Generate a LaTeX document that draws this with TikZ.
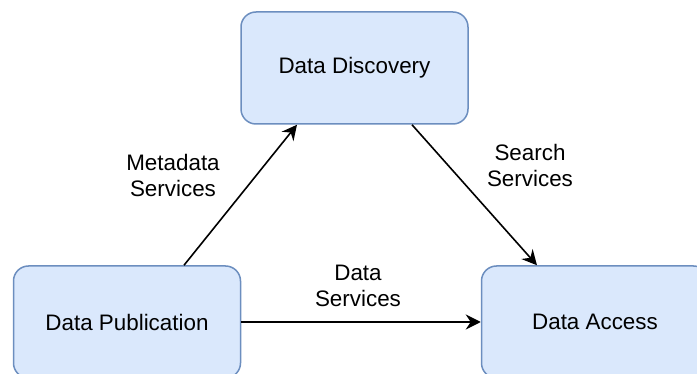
\documentclass[tikz,border=0pt]{standalone}
\usepackage{fontspec}
\setmainfont{Liberation Sans}
\usetikzlibrary{arrows.meta}
\tikzset{
  box/.style={draw=boxline, fill=boxfill, line width=1.5pt, rounded corners=15pt,
    minimum width=227pt, minimum height=112pt, inner sep=0pt,
    font=\fontsize{22.4}{26}\selectfont},
  conn/.style={line width=1.6pt, -{Stealth[length=15pt,width=15pt,inset=5pt]}},
  lbl/.style={align=center, inner sep=0pt, font=\fontsize{22.4}{26}\selectfont}
}
\definecolor{boxfill}{HTML}{DAE8FC}
\definecolor{boxline}{HTML}{6C8EBF}
\begin{document}
\begin{tikzpicture}[x=1pt,y=-1pt]
  \useasboundingbox (0,0) rectangle (697,374);
  \clip (0,0) rectangle (697,374);
  \node[box] (disc) at (354.5,68) {Data Discovery};
  \node[box] (pub) at (127,322) {Data Publication};
  \node[box] (acc) at (595,322) {Data Access};
  \draw[conn] ([xshift=57pt]pub.north) -- ([xshift=-57.5pt]disc.south);
  \draw[conn] ([xshift=57.5pt]disc.south) -- ([xshift=-58pt]acc.north);
  \draw[conn] (pub.east) -- (acc.west);
  \node[lbl] (lmeta) at (173,175) {Metadata\\Services};
  \node[lbl] (lsearch) at (530,165) {Search\\Services};
  \node[lbl] (ldata) at (358,286) {Data\\Services};
\end{tikzpicture}
\end{document}
